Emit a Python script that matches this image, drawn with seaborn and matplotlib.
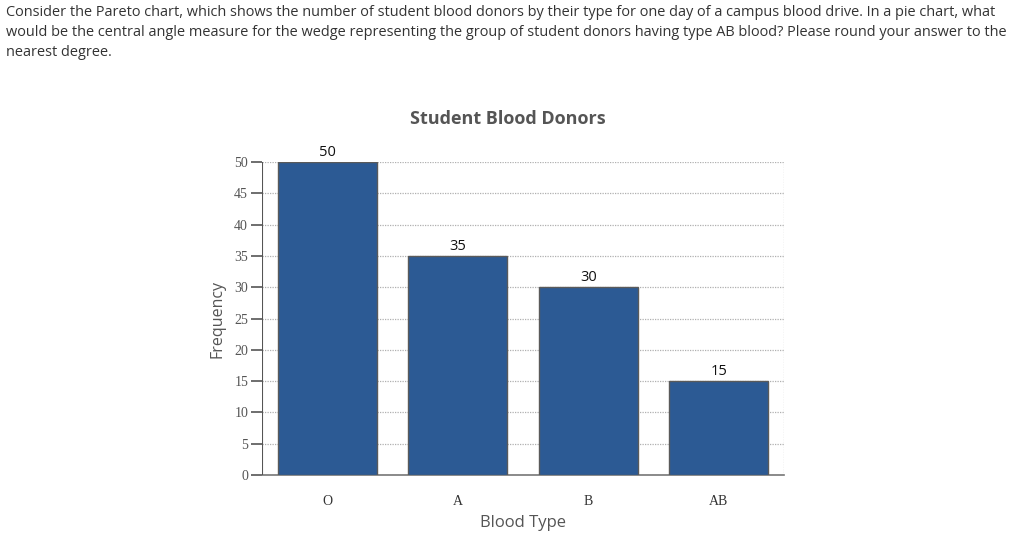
import numpy as np
import pandas as pd
import matplotlib
matplotlib.use("Agg")
import matplotlib.pyplot as plt
import seaborn as sns

# dados do gráfico
blood_types = ["O", "A", "B", "AB"]
frequency = [50, 35, 30, 15]
y_ticks = [0, 5, 10, 15, 20, 25, 30, 35, 40, 45, 50]

question_lines = [
    "Consider the Pareto chart, which shows the number of student blood donors by their type for one day of a campus blood drive. In a pie chart, what",
    "would be the central angle measure for the wedge representing the group of student donors having type AB blood? Please round your answer to the",
    "nearest degree.",
]

df = pd.DataFrame({"Blood Type": blood_types, "Frequency": frequency})

sns.set_style("white")
plt.rcParams["font.family"] = ["Open Sans", "DejaVu Sans"]

fig = plt.figure(figsize=(10.24, 5.57), dpi=100)
ax = fig.add_axes([262 / 1024, 82 / 557, 522 / 1024, 313 / 557])

sns.barplot(data=df, x="Blood Type", y="Frequency", color="#2C5A94",
            edgecolor="#5a5a5a", linewidth=1.0, width=0.76, saturation=1,
            ax=ax, zorder=3)

ax.set_ylim(0, 50)
ax.set_xlim(-0.5, 3.5)
ax.set_yticks(y_ticks)
ax.yaxis.grid(True, linestyle=(0, (1, 1)), color="#b0b0b0", linewidth=0.9, zorder=0)
ax.xaxis.grid(False)

for s in ["top", "left", "right"]:
    ax.spines[s].set_visible(False)
ax.axvline(3.5, color="#b0b0b0", linestyle=(0, (1, 1)), linewidth=0.9, zorder=0)
ax.spines["bottom"].set_color("#777777")
ax.spines["bottom"].set_linewidth(1.2)
ax.axvline(-0.5, color="#555555", linewidth=1.5, zorder=4)

ax.tick_params(axis="y", left=True, length=8, width=1.2, color="#555555",
               labelsize=10, labelcolor="#555555", pad=2)
ax.tick_params(axis="x", bottom=False, labelsize=10, labelcolor="#333333", pad=11)
for lab in ax.get_yticklabels() + ax.get_xticklabels():
    lab.set_family(["Liberation Serif", "DejaVu Serif"])

ax.set_ylabel("Frequency", fontsize=11.5, color="#555555", labelpad=6)
ax.set_xlabel("Blood Type", fontsize=12, color="#555555", labelpad=5)

for i, v in enumerate(frequency):
    ax.text(i, v + 0.3, str(v), ha="center", va="bottom", fontsize=10.5, color="#111111")

fig.text(508 / 1024, 1 - 119 / 557, "Student Blood Donors", ha="center", va="center",
         fontsize=13, fontweight="bold", color="#555555")

for k, line in enumerate(question_lines):
    fig.text(6 / 1024, 1 - (12 + 20.5 * k) / 557, line, ha="left", va="center",
             fontsize=10.45, color="#333333")

fig.savefig("out.png", dpi=100)
